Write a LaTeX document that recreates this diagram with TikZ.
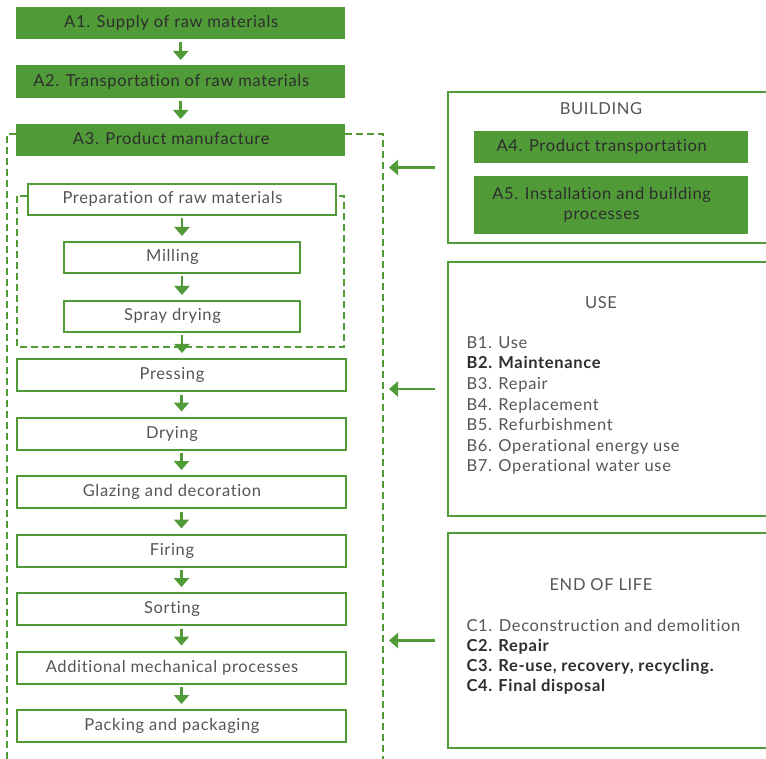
\documentclass[tikz,border=0pt]{standalone}
\usepackage{fontspec}
\setmainfont{Lato}[LetterSpace=4,Ligatures={NoCommon,NoContextual}]
\usetikzlibrary{arrows.meta}
\definecolor{G}{RGB}{80,155,56}
\definecolor{TG}{RGB}{85,85,85}
\definecolor{TD}{RGB}{45,45,45}
\begin{document}
\begin{tikzpicture}[x=1pt,y=-1pt,
  fnt/.style={font=\fontsize{16.5}{19.5}\selectfont},
  wbox/.style={fnt,draw=G,line width=2pt,fill=white,inner sep=0pt,anchor=north west,
     text=TG,text height=12pt,text depth=3pt,execute at end node={\hspace*{19pt}}},
  gbox/.style={fnt,draw=none,fill=G,inner sep=0pt,anchor=north west,
     text=TD,text height=12pt,text depth=3pt,execute at end node={\hspace*{19pt}}},
  panel/.style={draw=G,line width=2pt,fill=white,inner sep=0pt,anchor=north west},
  dsh/.style={draw=G,line width=2pt,dash pattern=on 7pt off 4pt},
  arr/.style={draw=G,line width=2.5pt,-{Triangle[width=15pt,length=9pt]},shorten <=2.5pt,shorten >=5pt},
  harr/.style={draw=G,line width=2.5pt,-{Triangle[width=15pt,length=9pt]},shorten <=12pt,shorten >=6pt},
  hdr/.style={fnt,text=TG,anchor=base},
  item/.style={fnt,text=TG,anchor=base west},
  bitem/.style={text=TD,anchor=base west,font=\fontsize{16.5}{19.5}\selectfont\bfseries}]
\useasboundingbox (0,0) rectangle (766,759);
\clip (0,0) rectangle (766,759);

% outer dashed frame
\coordinate (oTL) at (7,134);
\coordinate (oTR) at (383,134);
\coordinate (oBL) at (7,775);
\coordinate (oBR) at (383,775);
\draw[dsh] (16,134) -- (oTL) -- (oBL);
\draw[dsh] (345,134) -- (oTR) -- (oBR);
% inner dashed frame
\draw[dsh] (17,196) rectangle (344,347);

% left column
\node[gbox,minimum width=329pt,minimum height=32pt] (a1) at (16,7) {A1. Supply of raw materials};
\node[gbox,minimum width=329pt,minimum height=33pt] (a2) at (16,65) {A2. Transportation of raw materials};
\node[gbox,minimum width=329pt,minimum height=32pt] (a3) at (16,124) {A3. Product manufacture};
\node[wbox,minimum width=308pt,minimum height=31pt] (prep) at (27,183) {Preparation of raw materials};
\node[wbox,minimum width=236pt,minimum height=31pt] (mill) at (63,241) {Milling};
\node[wbox,minimum width=236pt,minimum height=31pt] (spray) at (63,300) {Spray drying};
\node[wbox,minimum width=329pt,minimum height=32pt] (press) at (16,358) {Pressing};
\node[wbox,minimum width=329pt,minimum height=32pt] (dry) at (16,416.5) {Drying};
\node[wbox,minimum width=329pt,minimum height=32pt] (glaze) at (16,475) {Glazing and decoration};
\node[wbox,minimum width=329pt,minimum height=32pt] (fire) at (16,533.5) {Firing};
\node[wbox,minimum width=329pt,minimum height=32pt] (sort) at (16,592) {Sorting};
\node[wbox,minimum width=329pt,minimum height=32pt] (addm) at (16,650.5) {Additional mechanical processes};
\node[wbox,minimum width=329pt,minimum height=32pt] (pack) at (16,709) {Packing and packaging};

\draw[arr] (a1) -- (a2);
\draw[arr] (a2) -- (a3);
\draw[arr] (prep.south -| mill.north) -- (mill);
\draw[arr] (mill) -- (spray);
\draw[arr] (spray.south) -- (press.north -| spray.south);
\draw[arr] (press) -- (dry);
\draw[arr] (dry) -- (glaze);
\draw[arr] (glaze) -- (fire);
\draw[arr] (fire) -- (sort);
\draw[arr] (sort) -- (addm);
\draw[arr] (addm) -- (pack);

% right panels
\node[panel,minimum width=330pt,minimum height=151pt] (bld) at (447,91) {};
\node[panel,minimum width=330pt,minimum height=254pt] (use) at (447,261) {};
\node[panel,minimum width=330pt,minimum height=215pt] (eol) at (447,532) {};

\node[hdr] (bldh) at (601,115) {BUILDING};
\node[gbox,minimum width=274pt,minimum height=32.5pt] (a4) at (474,130.7) {A4. Product transportation};
\node[gbox,minimum width=274pt,minimum height=58pt,align=center,text height=,text depth=] (a5) at (474,175.7)
  {\fontsize{16.5}{19.5}\selectfont A5. Installation and building\\processes};

\node[hdr] (useh) at (601,308.3) {USE};
\node[item] (b1) at (463,348.3) {B1. Use};
\node[bitem] (b2) at (463,368.9) {B2. Maintenance};
\node[item] (b3) at (463,389.4) {B3. Repair};
\node[item] (b4) at (463,410) {B4. Replacement};
\node[item] (b5) at (463,430.5) {B5. Refurbishment};
\node[item] (b6) at (463,451.1) {B6. Operational energy use};
\node[item] (b7) at (463,471.7) {B7. Operational water use};

\node[hdr] (eolh) at (601,590) {END OF LIFE};
\node[item] (c1) at (463,631) {C1. Deconstruction and demolition};
\node[bitem] (c2) at (463,651.2) {C2. Repair};
\node[bitem] (c3) at (463,671.5) {C3. Re-use, recovery, recycling.};
\node[bitem] (c4) at (463,691.7) {C4. Final disposal};

\draw[harr] (bld.west) -- (bld.west -| oTR);
\draw[harr] (use.west) -- (use.west -| oTR);
\draw[harr] (eol.west) -- (eol.west -| oTR);
\end{tikzpicture}
\end{document}
